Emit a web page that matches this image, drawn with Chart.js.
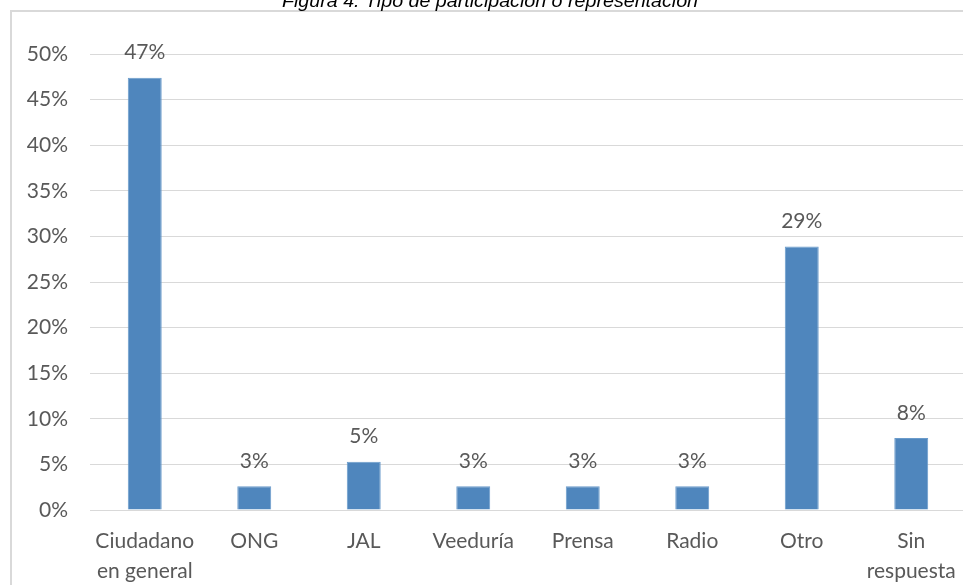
<!DOCTYPE html>
<html>
<head>
<meta charset="utf-8">
<script src="https://cdn.jsdelivr.net/npm/chart.js@4"></script>
<style>
  html, body { margin:0; padding:0; background:#fff; }
  body { width:963px; height:585px; overflow:hidden; position:relative; }
  #frame { position:absolute; left:10px; top:10px; width:1000px; height:620px; border:2px solid #d9d9d9; box-sizing:border-box; }
  #title { position:absolute; left:490px; top:-8px; white-space:nowrap; font-family:"Liberation Sans", Arial, sans-serif; font-style:italic; font-size:18px; line-height:18px; color:#000; transform-origin:center top; }
  #c { position:absolute; left:0; top:0; }
</style>
</head>
<body>
<div id="frame"></div>
<canvas id="c" width="980" height="600"></canvas>
<div id="title">Figura 4. Tipo de participación o representación</div>
<script>
const categories = [["Ciudadano","en general"], "ONG", "JAL", "Veeduría", "Prensa", "Radio", "Otro", ["Sin","respuesta"]];
const values = [47.4, 2.6, 5.3, 2.6, 2.6, 2.6, 28.9, 7.9];
const yTicks = [0, 5, 10, 15, 20, 25, 30, 35, 40, 45, 50];

// fit title width
(function(){
  const t = document.getElementById('title');
  const w = t.getBoundingClientRect().width;
  const target = 416;
  t.style.transform = 'translateX(-50%) scaleX(' + (target / w) + ')';
  t.style.transformOrigin = 'center top';
})();

const textColor = '#595959';
const fontFam = 'Lato, "Open Sans", sans-serif';

const labelPlugin = {
  id: 'valueLabels',
  afterDatasetsDraw(chart) {
    const ctx = chart.ctx;
    const meta = chart.getDatasetMeta(0);
    ctx.save();
    ctx.font = '21px ' + fontFam;
    ctx.fillStyle = textColor;
    ctx.textAlign = 'center';
    ctx.textBaseline = 'middle';
    meta.data.forEach((bar, i) => {
      ctx.fillText(Math.round(values[i]) + '%', bar.x, bar.y - 25);
    });
    ctx.restore();
  }
};

new Chart(document.getElementById('c'), {
  type: 'bar',
  data: {
    labels: categories,
    datasets: [{
      data: values,
      backgroundColor: '#4f86bd',
      borderColor: '#6a9bcb',
      borderWidth: 1,
      barPercentage: 0.31,
      categoryPercentage: 1
    }]
  },
  options: {
    responsive: false,
    animation: false,
    devicePixelRatio: 1,
    layout: { padding: { left: 0, right: 14, top: 54, bottom: 0 } },
    plugins: { legend: { display: false }, tooltip: { enabled: false }, title: { display: false } },
    scales: {
      x: {
        grid: { display: false, drawTicks: false },
        border: { display: true, color: '#d9d9d9', width: 1 },
        ticks: {
          color: textColor,
          font: { family: fontFam, size: 21, lineHeight: 1.45 },
          padding: 16,
          maxRotation: 0,
          autoSkip: false
        },
        afterFit(scale) { scale.height = 90; }
      },
      y: {
        min: 0, max: 50,
        afterBuildTicks(scale) { scale.ticks = yTicks.map(v => ({ value: v })); },
        grid: { color: '#d9d9d9', lineWidth: 1, drawTicks: false },
        border: { display: false },
        ticks: {
          color: textColor,
          font: { family: fontFam, size: 21 },
          padding: 22,
          callback: v => v + '%'
        },
        afterFit(scale) { scale.width = 90; }
      }
    }
  },
  plugins: [labelPlugin]
});
</script>
</body>
</html>
